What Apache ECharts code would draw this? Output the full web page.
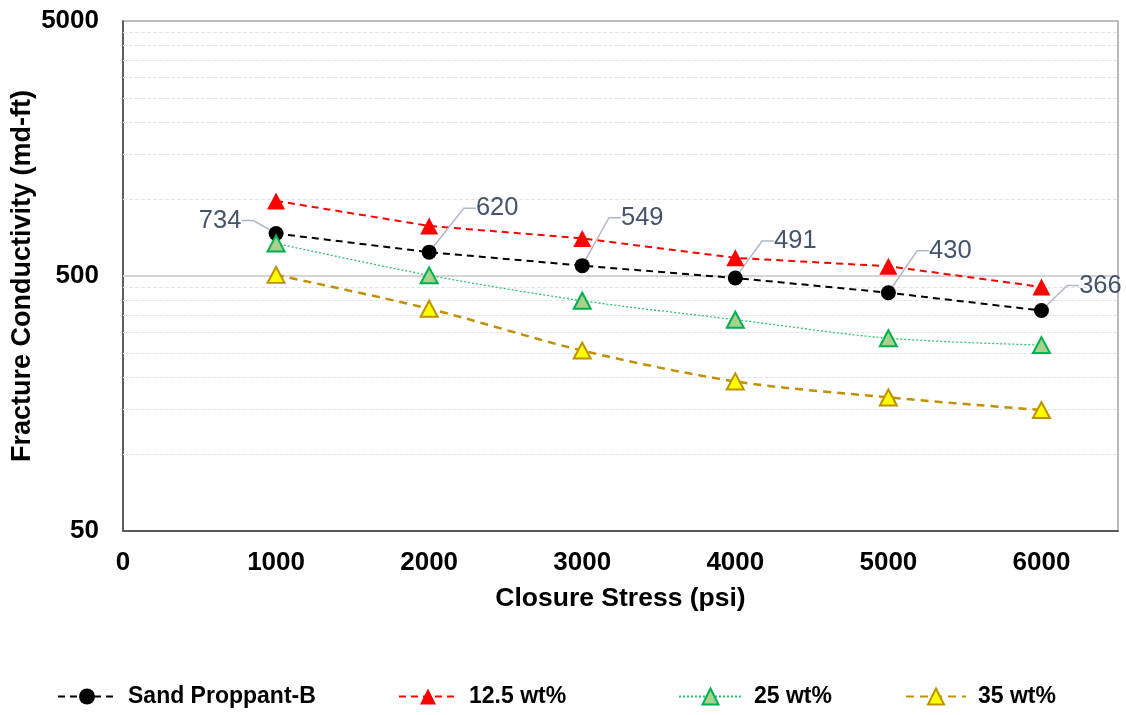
<!DOCTYPE html>
<html>
<head>
<meta charset="utf-8">
<script src="https://cdn.jsdelivr.net/npm/echarts@6/dist/echarts.min.js"></script>
<style>
  html, body { margin: 0; padding: 0; background: #fff; }
  #chart { width: 1126px; height: 715px; }
</style>
</head>
<body>
<div id="chart"></div>
<script>
// ---- data ----
const closureStress = [1000, 2000, 3000, 4000, 5000, 6000];
const sandProppantB = [734, 620, 549, 491, 430, 366];
const wt12_5 = [985, 786, 702, 589, 546, 453];
const wt25 = [671, 503, 400, 337, 285, 268];
const wt35 = [505, 372, 255, 193, 167, 149];
const seriesNames = ['Sand Proppant-B', '12.5 wt%', '25 wt%', '35 wt%'];
const xTickLabels = [0, 1000, 2000, 3000, 4000, 5000, 6000];
const yTickLabels = [50, 500, 5000];
const minorGridValues = [100, 150, 200, 250, 300, 350, 400, 450,
                         1000, 1500, 2000, 2500, 3000, 3500, 4000, 4500];
const majorGridValues = [500];

// ---- layout / style ----
const FONT = "'Liberation Sans', Arial, sans-serif";
const labelOffsets = [[-56, -13], [68, -44], [60, -48], [60, -37], [62, -42], [59, -25]];

function pairs(ys) { return closureStress.map((x, i) => [x, ys[i]]); }

const chart = echarts.init(document.getElementById('chart'), null, { renderer: 'canvas' });

const gridLines = minorGridValues.map(v => ({
  yAxis: v,
  lineStyle: { color: '#e3e3e3', width: 1, type: [4, 2] }
})).concat(majorGridValues.map(v => ({
  yAxis: v,
  lineStyle: { color: '#d4d4d4', width: 2, type: 'solid' }
})));

function legendAt(name, left, itemWidth) {
  return {
    data: [name],
    left: left,
    top: 685,
    itemWidth: itemWidth,
    itemHeight: 20,
    padding: 0,
    selectedMode: false,
    textStyle: { fontFamily: FONT, fontSize: 23, fontWeight: 'bold', color: '#000', padding: [0, 0, 0, 7] }
  };
}

const option = {
  animation: false,
  backgroundColor: '#fff',
  grid: {
    left: 123, right: 8, top: 21, bottom: 184,
    outerBoundsMode: 'none',
    containLabel: false,
    show: true, borderColor: '#a6a6a6', borderWidth: 1.5, backgroundColor: 'transparent'
  },
  legend: [
    legendAt(seriesNames[0], 57, 58),
    legendAt(seriesNames[1], 398, 58),
    legendAt(seriesNames[2], 678, 63),
    legendAt(seriesNames[3], 905, 60)
  ],
  xAxis: {
    type: 'value',
    min: 0, max: 6500, interval: 1000,
    name: 'Closure Stress (psi)',
    nameLocation: 'middle',
    nameGap: 54,
    nameMoveOverlap: false,
    nameTextStyle: { fontFamily: FONT, fontSize: 26.5, fontWeight: 'bold', color: '#000' },
    axisLine: { show: true, onZero: false, lineStyle: { color: '#595959', width: 2 } },
    axisTick: { show: false },
    splitLine: { show: false },
    axisLabel: {
      customValues: xTickLabels,
      margin: 19,
      fontFamily: FONT, fontSize: 26, fontWeight: 'bold', color: '#000',
      formatter: v => String(Math.round(v))
    }
  },
  yAxis: {
    type: 'log',
    logBase: 10,
    min: 50, max: 5000,
    name: 'Fracture Conductivity (md-ft)',
    nameLocation: 'middle',
    nameGap: 87,
    nameMoveOverlap: false,
    nameTextStyle: { fontFamily: FONT, fontSize: 27, fontWeight: 'bold', color: '#000' },
    axisLine: { show: true, onZero: false, lineStyle: { color: '#404040', width: 1.5 } },
    axisTick: { show: false },
    splitLine: { show: false },
    minorSplitLine: { show: false },
    axisLabel: {
      customValues: yTickLabels,
      margin: 24,
      fontFamily: FONT, fontSize: 26, fontWeight: 'bold', color: '#000',
      formatter: v => String(Math.round(v))
    }
  },
  series: [
    {
      name: seriesNames[0],
      type: 'line',
      data: pairs(sandProppantB),
      symbol: 'circle',
      symbolSize: 15,
      itemStyle: { color: '#000' },
      lineStyle: { color: '#000', width: 2, type: [7, 5] },
      z: 3,
      label: {
        show: true,
        position: 'inside',
        formatter: p => String(p.value[1]),
        fontFamily: FONT, fontSize: 25.5, color: '#44546A',
        padding: [0, 8]
      },
      labelLayout: function (p) {
        const o = labelOffsets[p.dataIndex];
        return { dx: o[0], dy: o[1] };
      },
      labelLine: { show: true, length2: 12, lineStyle: { color: '#ADB9CA', width: 1.5 } },
      markLine: {
        silent: true,
        z: 1,
        symbol: 'none',
        animation: false,
        label: { show: false },
        emphasis: { disabled: true },
        data: gridLines
      }
    },
    {
      name: seriesNames[1],
      type: 'line',
      data: pairs(wt12_5),
      symbol: 'triangle',
      symbolSize: [18, 17],
      itemStyle: { color: '#ff0000' },
      lineStyle: { color: '#ff0000', width: 2, type: [7, 5] },
      z: 3
    },
    {
      name: seriesNames[2],
      type: 'line',
      data: pairs(wt25),
      smooth: 0.3,
      symbol: 'triangle',
      symbolSize: [17, 16],
      itemStyle: { color: '#a9d18e', borderColor: '#00b050', borderWidth: 2 },
      lineStyle: { color: '#2fc46a', width: 1.3, type: [2, 2] },
      z: 4
    },
    {
      name: seriesNames[3],
      type: 'line',
      data: pairs(wt35),
      smooth: 0.3,
      symbol: 'triangle',
      symbolSize: [17, 16],
      itemStyle: { color: '#ffff00', borderColor: '#bf9000', borderWidth: 2 },
      lineStyle: { color: '#bf9000', width: 2.5, type: [8, 6] },
      z: 4
    }
  ]
};

chart.setOption(option);
</script>
</body>
</html>
